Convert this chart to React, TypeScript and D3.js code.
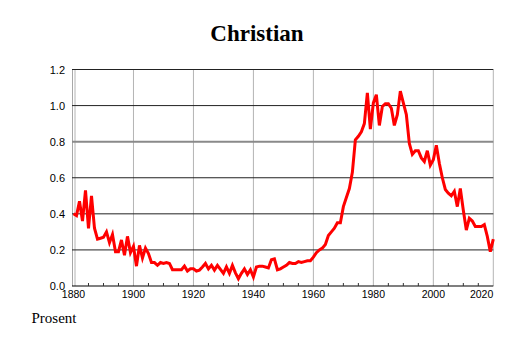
import React from "react";
import * as d3 from "d3";

const title = "Christian";
const yAxisTitle = "Prosent";
const startYear = 1880;
const values: number[] = [
  0.40, 0.39, 0.47, 0.36, 0.53, 0.32, 0.50, 0.32, 0.26, 0.265, // 1880-1889
  0.27, 0.30, 0.24, 0.285, 0.19, 0.19, 0.255, 0.17, 0.275, 0.185, // 1890-1899
  0.22, 0.11, 0.225, 0.155, 0.21, 0.18, 0.13, 0.13, 0.115, 0.13, // 1900-1909
  0.125, 0.13, 0.125, 0.09, 0.09, 0.09, 0.09, 0.11, 0.083, 0.095, // 1910-1919
  0.095, 0.083, 0.088, 0.105, 0.125, 0.095, 0.115, 0.088, 0.114, 0.092, // 1920-1929
  0.07, 0.106, 0.07, 0.114, 0.073, 0.04, 0.07, 0.095, 0.064, 0.09, // 1930-1939
  0.05, 0.105, 0.11, 0.11, 0.105, 0.10, 0.145, 0.15, 0.09, 0.095, // 1940-1949
  0.105, 0.115, 0.13, 0.125, 0.125, 0.135, 0.13, 0.135, 0.14, 0.14, // 1950-1959
  0.16, 0.185, 0.20, 0.21, 0.23, 0.28, 0.30, 0.32, 0.35, 0.35, // 1960-1969
  0.44, 0.49, 0.54, 0.63, 0.81, 0.83, 0.855, 0.90, 1.07, 0.87, // 1970-1979
  1.015, 1.06, 0.89, 0.995, 1.01, 1.01, 0.985, 0.89, 0.95, 1.08, // 1980-1989
  1.015, 0.95, 0.79, 0.73, 0.75, 0.75, 0.71, 0.69, 0.75, 0.67, // 1990-1999
  0.70, 0.78, 0.68, 0.60, 0.535, 0.515, 0.50, 0.525, 0.44, 0.54, // 2000-2009
  0.42, 0.31, 0.375, 0.36, 0.33, 0.33, 0.33, 0.34, 0.275, 0.19, // 2010-2019
  0.26, // 2020
];
const yTicks = [0, 0.2, 0.4, 0.6, 0.8, 1.0, 1.2];
const xTicks = [1880, 1900, 1920, 1940, 1960, 1980, 2000, 2020];
const minorTicks = [1885, 1890, 1895, 1905, 1910, 1915, 1925, 1930, 1935, 1945, 1950, 1955, 1965, 1970, 1975, 1985, 1990, 1995, 2005, 2010, 2015];

export default function App() {
  const x = d3.scaleLinear().domain([1880, 2020]).range([73.5, 493.3]);
  const y = d3.scaleLinear().domain([0, 1.2]).range([286, 69.5]);
  const left = 72;
  const right = x(2020);
  const line = d3
    .line<number>()
    .x((_, i) => x(startYear + i))
    .y((d) => y(d));
  const sans = "'Liberation Sans', Arial, Helvetica, sans-serif";
  const serif = "'Liberation Serif', 'Times New Roman', serif";
  return (
    <svg
      width={514}
      height={343}
      style={{ position: "absolute", left: 0, top: 0, background: "#fff" }}
    >
      <rect x={0} y={0} width={514} height={343} fill="#fff" />
      <text x={257} y={41} textAnchor="middle" fontFamily={serif} fontWeight="bold" fontSize={23} fill="#000">
        {title}
      </text>
      {/* vertical gridlines */}
      {xTicks.map((t) => (
        <line key={"vx" + t} x1={t === 1880 ? x(t) + 1.5 : x(t)} x2={t === 1880 ? x(t) + 1.5 : x(t)} y1={y(1.2)} y2={y(0)} stroke="#b4b4b4" strokeWidth={1} />
      ))}
      {/* left axis */}
      <line x1={left + 0.5} x2={left + 0.5} y1={y(1.2)} y2={y(0)} stroke="#a8a8a8" strokeWidth={1} />
      {/* horizontal gridlines */}
      {yTicks.filter((t) => t > 0).map((t) => (
        <line
          key={"hy" + t}
          x1={left}
          x2={right}
          y1={y(t)}
          y2={y(t)}
          stroke={t === 0.8 ? "#8a8a8a" : "#222"}
          strokeWidth={t === 0.8 ? 2 : 1}
        />
      ))}
      {/* bottom axis */}
      <line x1={left} x2={right} y1={y(0)} y2={y(0)} stroke="#000" strokeWidth={1.2} />
      {minorTicks.map((t) => (
        <line key={"mt" + t} x1={x(t)} x2={x(t)} y1={y(0)} y2={y(0) - 3} stroke="#333" strokeWidth={1} />
      ))}
      {/* data line */}
      <path d={line(values) || ""} fill="none" stroke="#ff0000" strokeWidth={3} strokeLinejoin="miter" strokeMiterlimit={4} />
      {/* y labels */}
      {yTicks.map((t) => (
        <text key={"yl" + t} x={65} y={y(t) + 4} textAnchor="end" fontFamily={sans} fontSize={11} fill="#000">
          {t.toFixed(1)}
        </text>
      ))}
      {/* x labels */}
      {xTicks.map((t) => (
        <text
          key={"xl" + t}
          x={t === 2020 ? right : x(t)}
          y={298}
          textAnchor={t === 2020 ? "end" : "middle"}
          fontFamily={sans}
          fontSize={10.5}
          fill="#000"
        >
          {t}
        </text>
      ))}
      <text x={31.5} y={323} fontFamily={serif} fontSize={15} fill="#000">
        {yAxisTitle}
      </text>
    </svg>
  );
}
